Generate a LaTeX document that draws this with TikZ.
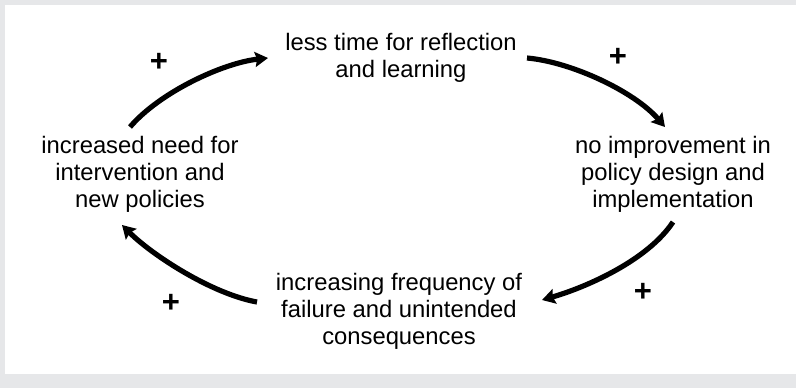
\documentclass[tikz,border=0pt]{standalone}
\usepackage{fontspec}
\setmainfont{Liberation Sans}
\usetikzlibrary{arrows.meta,calc}
\definecolor{framegray}{RGB}{230,231,233}
\tikzset{
  label/.style={align=center,inner sep=0pt,font=\fontsize{23.8}{27}\selectfont},
  plus/.style={inner sep=0pt,font=\fontsize{31}{31}\selectfont\bfseries},
  link/.style={line width=5.2pt,-{Stealth[length=13pt,width=15pt,inset=2pt]}}
}
\begin{document}
\begin{tikzpicture}[x=1pt,y=-1pt]
\fill[framegray] (0,0) rectangle (796,388);
\fill[white] (5,5) rectangle (796,374);
\useasboundingbox (0,0) rectangle (796,388);
\node[label] (T) at (401,58) {less time for reflection\\and learning};
\node[label] (L) at (140,174) {increased need for\\intervention and\\new policies};
\node[label] (R) at (673,174) {no improvement in\\policy design and\\implementation};
\node[label] (B) at (399,311) {increasing frequency of\\failure and unintended\\consequences};
\node[plus] (p1) at (159,62) {+};
\node[plus] (p2) at (618,57) {+};
\node[plus] (p3) at (643,292) {+};
\node[plus] (p4) at (171,303) {+};
\coordinate (a1s) at ($(L)+(-10,-47)$);
\coordinate (a1e) at ($(T)+(-133,0)$);
\coordinate (a2s) at ($(T)+(126,0)$);
\coordinate (a2e) at ($(R)+(-8,-47)$);
\coordinate (a3s) at ($(R)+(0,48)$);
\coordinate (a3e) at ($(B)+(143,-11)$);
\coordinate (a4s) at ($(B)+(-142,-9)$);
\coordinate (a4e) at ($(L)+(-18,51)$);
\draw[link] (a1s) .. controls +(30,-35) and +(-45,5) .. (a1e);
\draw[link] (a2s) .. controls +(45,4) and +(-30,-35) .. (a2e);
\draw[link] (a3s) .. controls +(-25,38) and +(45,-13) .. (a3e);
\draw[link] (a4s) .. controls +(-45,-8) and +(30,30) .. (a4e);
\end{tikzpicture}
\end{document}
